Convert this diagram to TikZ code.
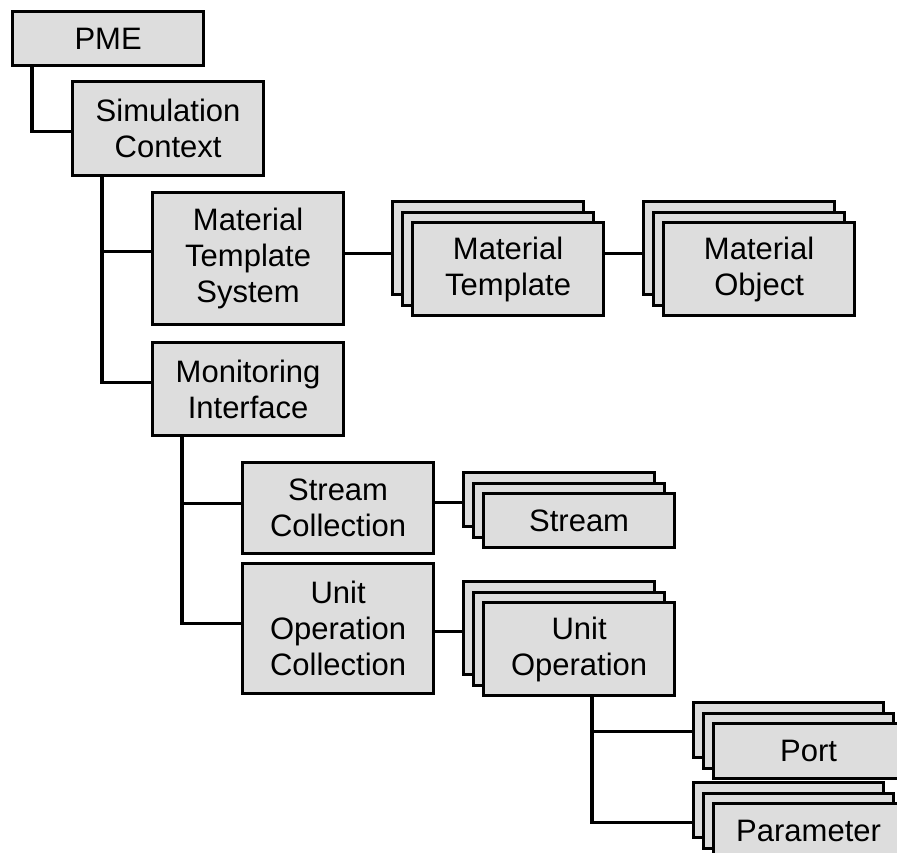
\documentclass[tikz,border=0pt]{standalone}
\usepackage{fontspec}
\setmainfont{Liberation Sans}
\usetikzlibrary{calc}
\definecolor{boxgray}{RGB}{221,221,221}
\tikzset{
  box/.style={draw=black, line width=3.2pt, fill=boxgray, align=center, inner sep=0pt,
              anchor=north west, font=\fontsize{31}{36}\selectfont},
  conn/.style={draw=black, line width=3.2pt},
}
\newcommand{\mystack}[6]{%
  \node[box, minimum width=#4, minimum height=#5] (#1-b) at (#2,#3) {};
  \node[box, minimum width=#4, minimum height=#5] (#1-m) at ($(#2,#3)+(10,10.5)$) {};
  \node[box, minimum width=#4, minimum height=#5] (#1) at ($(#2,#3)+(20,21)$) {#6};
}
\begin{document}
\begin{tikzpicture}[x=1pt,y=-1pt]
\path[use as bounding box] (0,0) rectangle (897,852);
\clip (0,0) rectangle (897,852);

% plain boxes
\node[box, minimum width=191pt, minimum height=54pt]  (pme)  at (11,10)  {PME};
\node[box, minimum width=191pt, minimum height=94pt]  (sc)   at (71,80)  {Simulation\\Context};
\node[box, minimum width=191pt, minimum height=132pt] (mts)  at (151,191) {Material\\Template\\System};
\node[box, minimum width=191pt, minimum height=93pt]  (mi)   at (151,341) {Monitoring\\Interface};
\node[box, minimum width=191pt, minimum height=91pt]  (scol) at (241,461) {Stream\\Collection};
\node[box, minimum width=191pt, minimum height=130pt] (uoc)  at (241,562) {Unit\\Operation\\Collection};

% stacked boxes
\mystack{mt}{391}{200}{191pt}{93pt}{Material\\Template}
\mystack{mo}{642}{200}{191pt}{93pt}{Material\\Object}
\mystack{st}{462}{471}{191pt}{54pt}{Stream}
\mystack{uo}{462}{580}{191pt}{93pt}{Unit\\Operation}
\mystack{po}{692}{701}{190pt}{55pt}{Port}
\mystack{pa}{692}{781}{190pt}{55pt}{Parameter}

% connectors
\draw[conn] ($(pme.south west)+(21,0)$) |- ($(sc.west)+(0,3)$);
\draw[conn] ($(sc.south west)+(31,0)$) |- ($(mts.west)+(0,-7)$);
\draw[conn] ($(sc.south west)+(31,0)$) |- ($(mi.west)+(0,-7)$);
\draw[conn] ($(mts.east)+(0,-5)$) coordinate (a1) -- (a1 -| mt-b.west);
\draw[conn] ($(mt.east)+(0,-16)$) coordinate (a2) -- (a2 -| mo-b.west);
\draw[conn] ($(mi.south west)+(31,0)$) |- ($(scol.west)+(0,-5)$);
\draw[conn] ($(mi.south west)+(31,0)$) |- ($(uoc.west)+(0,-5)$);
\draw[conn] ($(scol.east)+(0,-6)$) coordinate (a3) -- (a3 -| st-b.west);
\draw[conn] ($(uoc.east)+(0,3)$) coordinate (a4) -- (a4 -| uo-b.west);
\draw[conn] ($(uo.south west)+(110,0)$) |- ($(po-b.west)+(0,1)$);
\draw[conn] ($(uo.south west)+(110,0)$) |- ($(pa-b.west)+(0,12)$);
\end{tikzpicture}
\end{document}
